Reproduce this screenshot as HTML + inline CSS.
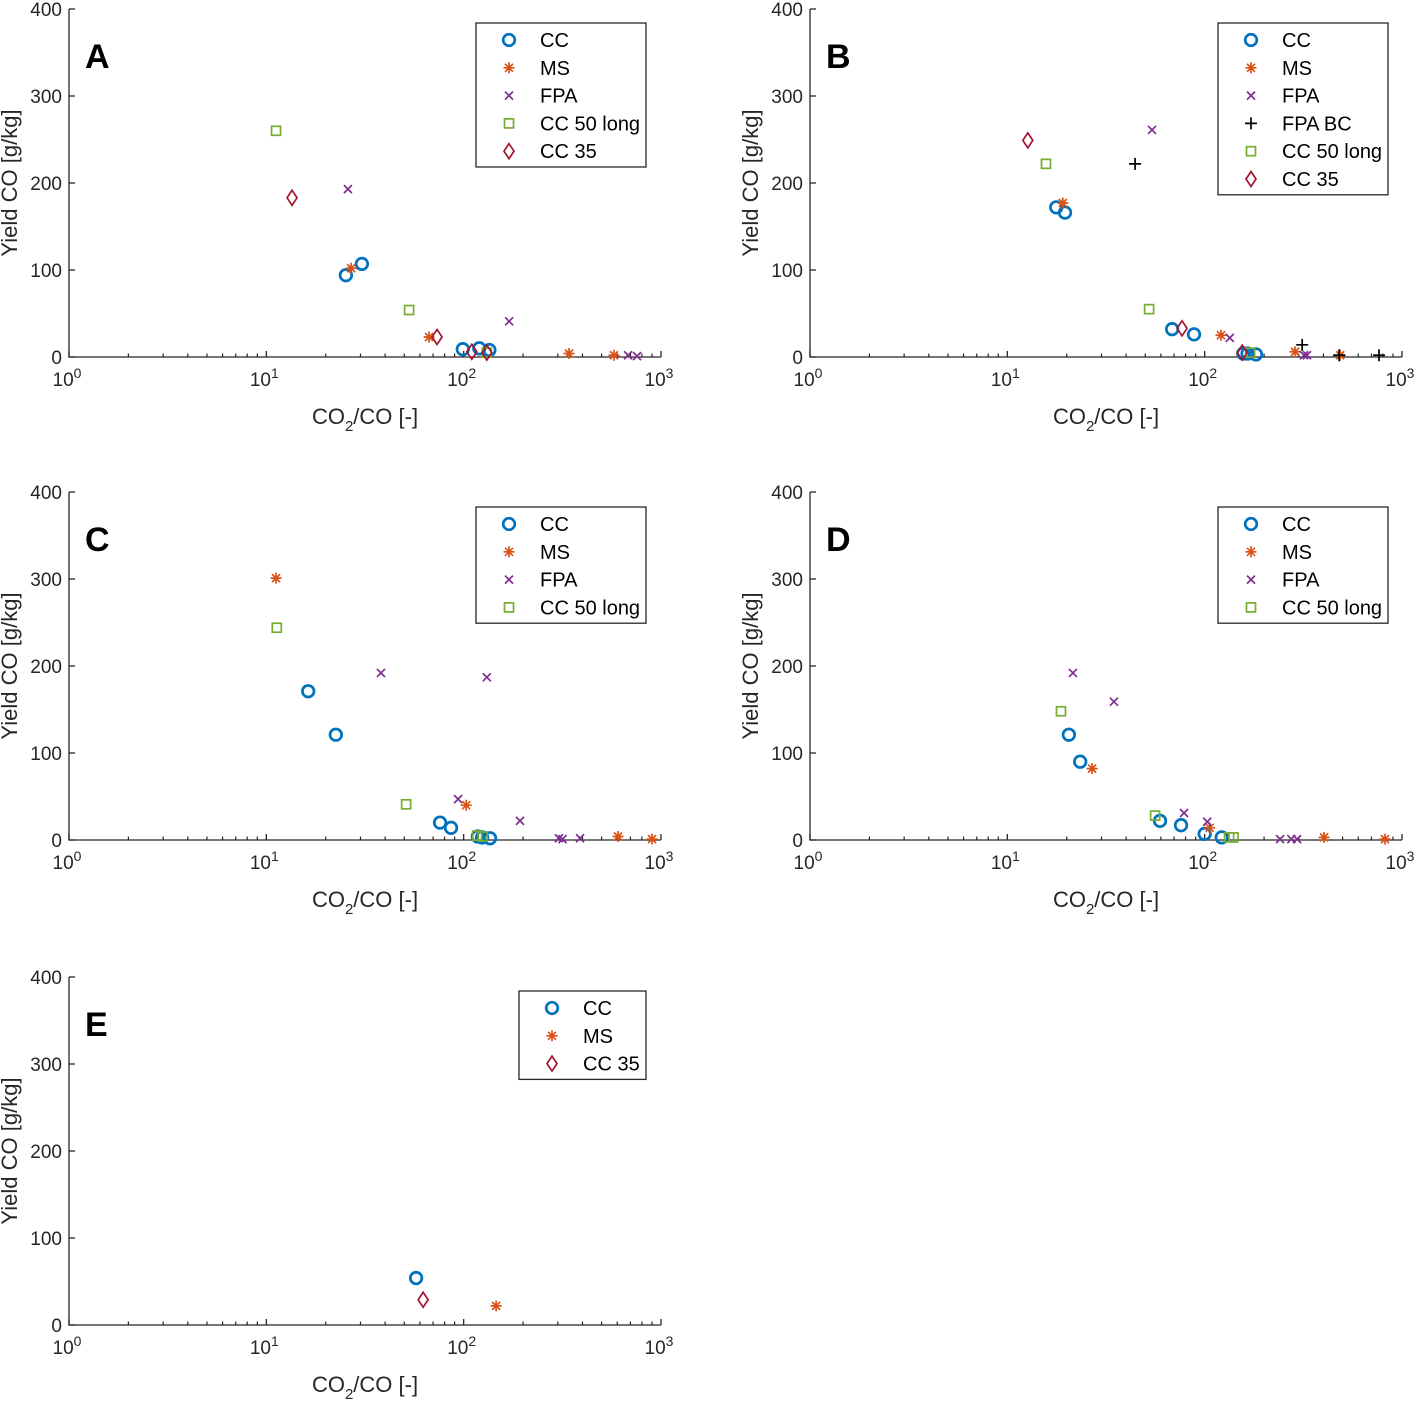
<!DOCTYPE html>
<html><head><meta charset="utf-8"><style>
body{margin:0;background:#fff}
svg{display:block;font-family:"Liberation Sans",Arial,sans-serif}
</style></head><body>
<svg id="fig" width="1418" height="1403" viewBox="0 0 1418 1403" xmlns="http://www.w3.org/2000/svg"></svg>
<script>
// Panel data: [x values (CO2/CO), y values (Yield CO g/kg)]
const aCC_x=[25.3,30.5,99,120,135], aCC_y=[94,107,9,10,8];
const aMS_x=[26.9,66.8,342,578], aMS_y=[102,23,4,2];
const aFPA_x=[25.9,170,681,756], aFPA_y=[193,41,2,1];
const aCC50_x=[11.2,52.9,131], aCC50_y=[260,54,5];
const aCC35_x=[13.5,73.3,110,131], aCC35_y=[183,23,6,5];

const bCC_x=[17.7,19.6,68.4,88.3,157,165,182], bCC_y=[172,166,32,26,4,4,3];
const bMS_x=[19.1,121,287,486], bMS_y=[177,25,6,2];
const bFPA_x=[54.1,134,319,330], bFPA_y=[261,22,2,2];
const bFPABC_x=[44.4,312,480,765], bFPABC_y=[222,14,2,2];
const bCC50_x=[15.7,52.3,170], bCC50_y=[222,55,5];
const bCC35_x=[12.7,76.8,155], bCC35_y=[249,33,5];

const cCC_x=[16.3,22.5,75.9,86.3,118,124,136], cCC_y=[171,121,20,14,4,3,2];
const cMS_x=[11.2,103,606,901], cMS_y=[301,40,4,1];
const cFPA_x=[38.1,131,93.7,193,304,317,389], cFPA_y=[192,187,47,22,2,1,2];
const cCC50_x=[11.3,51.1,117,125], cCC50_y=[244,41,5,4];

const dCC_x=[20.5,23.4,59.4,75.9,100,122], dCC_y=[121,90,22,17,7,3];
const dMS_x=[26.9,106,403,820], dMS_y=[82,14,3,1];
const dFPA_x=[21.5,34.7,78.6,103,241,275,294], dFPA_y=[192,159,31,21,1,1,1];
const dCC50_x=[18.7,56.1,133,140], dCC50_y=[148,28,3,3];

const eCC_x=[57.4], eCC_y=[54];
const eMS_x=[146], eMS_y=[22];
const eCC35_x=[62.3], eCC35_y=[29];

const yTicks=[0,100,200,300,400];
const xDecades=[0,1,2,3];

const NS="http://www.w3.org/2000/svg";
const svg=document.getElementById('fig');
function mk(tag,attrs,parent){const e=document.createElementNS(NS,tag);for(const k in attrs)e.setAttribute(k,attrs[k]);(parent||svg).appendChild(e);return e;}

const COL={CC:'#0072BD',MS:'#D95319',FPA:'#7E2F8E',FPABC:'#000',CC50:'#77AC30',CC35:'#A2142F'};
const LABEL={CC:'CC',MS:'MS',FPA:'FPA',FPABC:'FPA BC',CC50:'CC 50 long',CC35:'CC 35'};

function marker(g,type,cx,cy){
  const c=COL[type];
  if(type==='CC'){return mk('circle',{cx,cy,r:5.8,fill:'none',stroke:c,'stroke-width':2.7},g);}
  if(type==='CC50'){return mk('rect',{x:cx-4.5,y:cy-4.5,width:9,height:9,fill:'none',stroke:c,'stroke-width':1.7},g);}
  if(type==='CC35'){return mk('path',{d:`M${cx},${cy-7.5}L${cx+5},${cy}L${cx},${cy+7.5}L${cx-5},${cy}Z`,fill:'none',stroke:c,'stroke-width':1.7},g);}
  if(type==='FPA'){return mk('path',{d:`M${cx-4},${cy-4}L${cx+4},${cy+4}M${cx-4},${cy+4}L${cx+4},${cy-4}`,stroke:c,'stroke-width':1.7},g);}
  if(type==='FPABC'){return mk('path',{d:`M${cx-6},${cy}L${cx+6},${cy}M${cx},${cy-6}L${cx},${cy+6}`,stroke:c,'stroke-width':1.7},g);}
  if(type==='MS'){return mk('path',{d:`M${cx-5.5},${cy}L${cx+5.5},${cy}M${cx},${cy-5.5}L${cx},${cy+5.5}M${cx-4},${cy-4}L${cx+4},${cy+4}M${cx-4},${cy+4}L${cx+4},${cy-4}`,stroke:c,'stroke-width':1.7},g);}
}

function panel(id,letter,x0,y0,series,leg){
  const x1=x0+592,yTop=y0-348;
  const sx=v=>x0+Math.log10(v)*(592/3);
  const sy=v=>y0-v*(348/400);
  const g=mk('g',{});
  
  
  const ax=mk('path',{d:`M${x0},${yTop}V${y0}H${x1}`,fill:'none',stroke:'#262626','stroke-width':1.3},g);
  
  
  yTicks.forEach(t=>{
    const y=sy(t);
    mk('line',{x1:x0,x2:x0+6,y1:y,y2:y,stroke:'#262626','stroke-width':1.3},g);
    const tx=mk('text',{x:x0-7,y:y+7,'text-anchor':'end','font-size':19,fill:'#262626'},g);
    tx.textContent=t;
    
    
  });
  xDecades.forEach(d=>{
    const x=sx(Math.pow(10,d));
    mk('line',{x1:x,x2:x,y1:y0,y2:y0-6,stroke:'#262626','stroke-width':1.3},g);
    if(d<3){for(let m=2;m<10;m++){const xm=sx(m*Math.pow(10,d));mk('line',{x1:xm,x2:xm,y1:y0,y2:y0-3.5,stroke:'#262626','stroke-width':1.2},g);}}
    const tx=mk('text',{x:x-2,y:y0+29,'text-anchor':'middle','font-size':19,fill:'#262626'},g);
    tx.innerHTML='10<tspan dy="-8" font-size="14">'+d+'</tspan>';
    
    
  });
  const xl=mk('text',{x:x0+296,y:y0+67,'text-anchor':'middle','font-size':22,fill:'#262626'},g);
  xl.innerHTML='CO<tspan dy="7" font-size="15">2</tspan><tspan dy="-7">/CO [-]</tspan>';
  
  
  const yl=mk('text',{x:0,y:0,'text-anchor':'middle','font-size':22,fill:'#262626',transform:`translate(${x0-52},${y0-174}) rotate(-90)`},g);
  yl.textContent='Yield CO [g/kg]';
  
  
  const pl=mk('text',{x:x0+16,y:yTop+59,'font-size':34,'font-weight':'bold',fill:'#000'},g);
  pl.textContent=letter;
  
  
  series.forEach(([type,xs,ys])=>{
    const sg=mk('g',{},g);
    
    
    xs.forEach((v,i)=>{
      const m=marker(sg,type,sx(v),sy(ys[i]));
      
      
    });
  });
  const [lx,ly,lw]=leg;
  const lg=mk('g',{},g);
  
  
  const lh=series.length*27.8+5;
  mk('rect',{x:lx,y:ly,width:lw,height:lh,fill:'#fff',stroke:'#262626','stroke-width':1.3},lg);
  series.forEach(([type],i)=>{
    const cy=ly+17+i*27.8;
    marker(lg,type,lx+33,cy);
    const t=mk('text',{x:lx+64,y:cy+7,'font-size':20,fill:'#000'},lg);
    t.textContent=LABEL[type];
    
    
  });
}

panel('a','A',69,357,[['CC',aCC_x,aCC_y],['MS',aMS_x,aMS_y],['FPA',aFPA_x,aFPA_y],['CC50',aCC50_x,aCC50_y],['CC35',aCC35_x,aCC35_y]],[476,23,170]);
panel('b','B',810,357,[['CC',bCC_x,bCC_y],['MS',bMS_x,bMS_y],['FPA',bFPA_x,bFPA_y],['FPABC',bFPABC_x,bFPABC_y],['CC50',bCC50_x,bCC50_y],['CC35',bCC35_x,bCC35_y]],[1218,23,170]);
panel('c','C',69,840,[['CC',cCC_x,cCC_y],['MS',cMS_x,cMS_y],['FPA',cFPA_x,cFPA_y],['CC50',cCC50_x,cCC50_y]],[476,507,170]);
panel('d','D',810,840,[['CC',dCC_x,dCC_y],['MS',dMS_x,dMS_y],['FPA',dFPA_x,dFPA_y],['CC50',dCC50_x,dCC50_y]],[1218,507,170]);
panel('e','E',69,1325,[['CC',eCC_x,eCC_y],['MS',eMS_x,eMS_y],['CC35',eCC35_x,eCC35_y]],[519,991,127]);
</script>
</body></html>
